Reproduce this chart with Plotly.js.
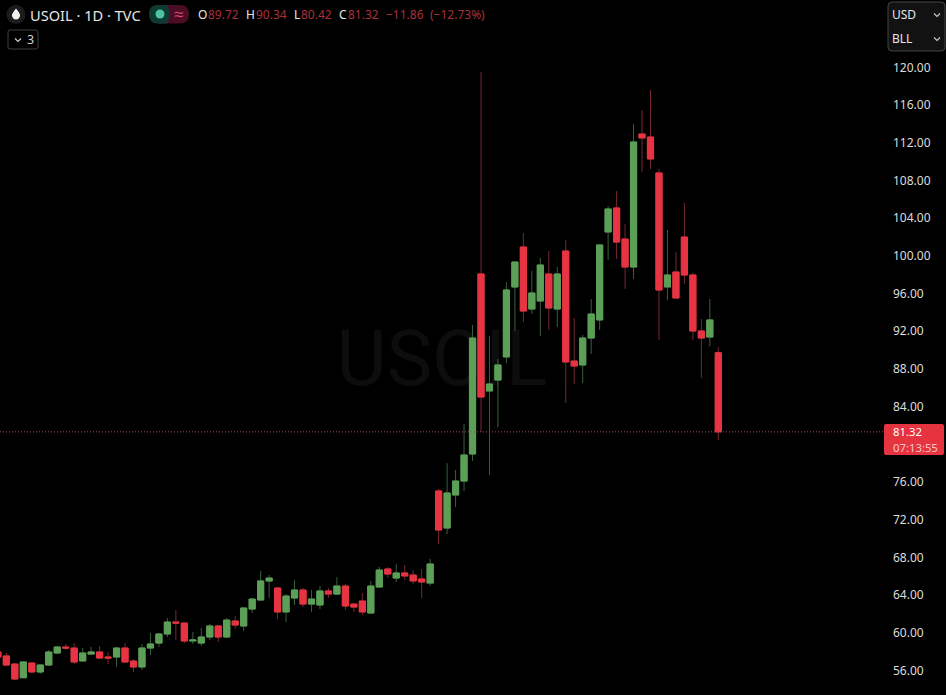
<!DOCTYPE html>
<html><head><meta charset="utf-8">
<script src="https://cdn.plot.ly/plotly-3.0.1.min.js"></script>
<style>html,body{margin:0;padding:0;background:#000;overflow:hidden}#c{width:946px;height:695px}</style>
</head><body><div id="c"></div>
<script>
var openP = [57.95,57.53,56.67,55.22,56.78,55.83,56.57,57.84,58.48,58.37,57.0,57.73,57.95,57.42,57.42,58.37,56.99,56.36,58.37,58.90,59.86,61.13,61.02,59.12,58.90,59.54,60.71,59.54,61.24,60.71,62.51,63.47,65.49,64.74,62.20,63.68,64.53,63.04,62.94,64.43,64.10,64.95,63.04,63.36,62.09,64.85,66.76,65.80,66.34,66.12,65.70,65.27,75.04,71.11,74.62,76.10,78.97,98.08,85.66,86.82,89.27,96.70,100.94,94.36,95.21,98.08,94.36,100.52,88.84,88.42,91.28,93.20,102.54,105.09,101.79,98.82,112.94,112.62,108.80,96.70,98.29,102.00,97.97,92.03,91.39,89.72];
var highP = [58.06,57.84,56.75,56.95,56.89,56.57,58.16,58.54,58.80,58.90,58.37,58.48,58.59,57.95,58.48,58.90,57.20,58.80,59.97,59.97,61.56,62.41,61.13,60.07,60.50,60.92,60.81,61.56,61.77,62.67,63.68,66.55,66.12,64.80,64.10,65.59,64.74,64.53,64.95,64.74,65.91,65.17,63.10,64.21,65.49,66.97,66.97,67.29,67.18,66.65,66.76,67.82,75.25,78.00,77.27,82.15,92.66,119.49,91.50,89.06,97.23,99.40,102.43,98.40,99.78,100.52,98.82,101.69,93.41,91.60,95.42,101.20,105.30,106.89,103.39,114.00,115.49,117.61,109.23,102.75,100.41,105.62,98.18,93.30,95.42,90.34];
var lowP = [57.31,56.46,54.97,55.15,55.72,55.61,56.46,57.73,58.16,56.67,57.00,57.63,57.20,56.67,56.36,56.85,55.83,56.04,57.63,58.48,59.54,59.22,58.90,58.80,58.59,59.22,59.01,59.50,60.39,60.18,62.09,63.40,63.68,61.45,61.13,62.94,62.72,62.20,62.51,63.68,64.05,62.41,62.20,61.88,62.05,64.80,65.80,65.38,65.59,65.17,63.68,64.95,69.40,70.48,73.34,75.04,78.23,81.30,76.74,81.84,88.63,92.03,92.98,93.83,91.50,92.13,92.45,84.38,86.40,86.50,89.59,92.13,99.57,99.67,96.49,97.55,108.91,109.23,91.07,95.32,95.50,97.02,91.07,87.04,90.40,80.42];
var closeP = [57.42,56.57,55.08,56.89,55.83,56.57,57.95,58.48,58.37,56.89,57.84,57.95,57.31,57.31,58.37,56.89,56.36,58.37,58.80,59.86,61.13,61.02,59.12,59.22,59.54,60.71,59.54,61.34,60.81,62.62,63.57,65.49,65.80,62.20,63.89,64.53,63.04,63.57,64.43,64.10,64.95,62.83,62.72,62.20,64.95,66.65,66.23,66.34,66.02,65.49,65.38,67.29,70.90,74.83,76.10,78.86,91.28,85.02,86.40,88.42,96.38,99.35,94.15,96.06,99.03,94.47,98.08,88.74,88.31,91.28,93.83,101.16,104.98,101.47,98.82,112.09,112.52,110.29,96.38,97.97,95.53,97.97,92.03,91.28,93.20,81.32];
var tickValues = [56,60,64,68,72,76,84,88,92,96,100,104,108,112,116,120];
var lastPrice = 81.32;
var barIndex = closeP.map(function(_,i){return i;});
var upBody='#5ca058', downBody='#e83442', upWick='#39603a', downWick='#752831';

var W=884,H=695;
function X(p){return p/W;} function Y(p){return 1-p/H;}
function rect(x0,y0,x1,y1,fill,line,r){
  r=r||0;
  var P=function(x,y){return X(x)+','+Y(y);};
  var d='M'+P(x0+r,y0)+'L'+P(x1-r,y0)+(r?'Q'+P(x1,y0)+' '+P(x1,y0+r):'')+'L'+P(x1,y1-r)+(r?'Q'+P(x1,y1)+' '+P(x1-r,y1):'')+'L'+P(x0+r,y1)+(r?'Q'+P(x0,y1)+' '+P(x0,y1-r):'')+'L'+P(x0,y0+r)+(r?'Q'+P(x0,y0)+' '+P(x0+r,y0):'')+'Z';
  return {type:'path',xref:'paper',yref:'paper',path:d,fillcolor:fill,line:line?{color:line,width:1}:{width:0},layer:'above'};
}
function circle(cx,cy,r,fill){
  return {type:'circle',xref:'paper',yref:'paper',x0:X(cx-r),x1:X(cx+r),y0:Y(cy+r),y1:Y(cy-r),fillcolor:fill,line:{width:0},layer:'above'};
}
function chev(cx,cy,c){
  var P=function(x,y){return X(x)+','+Y(y);};
  return {type:'path',xref:'paper',yref:'paper',path:'M'+P(cx-3,cy-1.5)+'L'+P(cx,cy+1.5)+'L'+P(cx+3,cy-1.5),line:{color:c,width:1.2},layer:'above'};
}
function txt(x,y,t,color,size,extra){
  var a={xref:'paper',yref:'paper',x:X(x),y:Y(y),text:t,showarrow:false,xanchor:'left',yanchor:'middle',borderpad:0,
    font:{family:'Noto Sans, sans-serif',size:size,color:color}};
  if(extra){for(var k in extra){a[k]=extra[k];}}
  return a;
}
var dimRed='#a9303b', hdr='#e6e6e6';
var P0=function(x,y){return X(x)+','+Y(y);};
var drop='M'+P0(16,8.5)+'Q'+P0(21,14.5)+' '+P0(20,16)+'Q'+P0(19,19.5)+' '+P0(16,19.5)+'Q'+P0(13,19.5)+' '+P0(12,16)+'Q'+P0(11,14.5)+' '+P0(16,8.5)+'Z';

var shapes=[
  {type:'line',xref:'paper',yref:'y2',x0:0,x1:1,y0:lastPrice,y1:lastPrice,line:{color:'#a8484f',width:1,dash:'1px,2px'},layer:'above'},
  rect(884,424,944,455,'#e5333f',null,2),
  circle(16,14.5,9.5,'#1c1c1c'),
  {type:'path',xref:'paper',yref:'paper',path:drop,fillcolor:'#f0f0f0',line:{width:0},layer:'above'},
  rect(149,5,189,23.5,'#4a0d22',null,9),
  rect(149,5,170,23.5,'#0d3a33',null,9),
  rect(159,5,168,23.5,'#0d3a33',null,0),
  circle(160,14,4.5,'#4cc4a0'),
  rect(8,30,38,49,'#000','#3f3f3f',2),
  chev(18,40,'#d0d0d0'),
  rect(888,2,945,51,'#121212','#454545',4),
  chev(937,15,'#c8c8c8'),
  chev(937,39,'#c8c8c8')
];
var ann=[
  txt(29,14.5,'USOIL · 1D · TVC',hdr,14.6),
  txt(178,14,'≈','#e0457b',17,{xanchor:'center'}),
  txt(197,14.5,'O',hdr,12), txt(207,14.5,'89.72',dimRed,12),
  txt(245,14.5,'H',hdr,12), txt(255,14.5,'90.34',dimRed,12),
  txt(293,14.5,'L',hdr,12), txt(300,14.5,'80.42',dimRed,12),
  txt(338,14.5,'C',hdr,12), txt(347,14.5,'81.32',dimRed,12),
  txt(385,14.5,'−11.86',dimRed,12),
  txt(429,14.5,'(−12.73%)',dimRed,12),
  txt(26,40,'3','#d0d0d0',12.5),
  txt(891,14.5,'USD','#e6e6e6',12),
  txt(891,38.5,'BLL','#e6e6e6',12),
  txt(892,432,'81.32','#ffffff',11.3),
  txt(892,447.5,'07:13:55','#ffc4c9',11.3)
];

var watermark={type:'scatter',mode:'text',x:[442],y:[366],text:['USOIL'],textposition:'middle center',
  textfont:{family:'Roboto, sans-serif',size:77,color:'#0d0d0d'},hoverinfo:'skip',showlegend:false,xaxis:'x',yaxis:'y',cliponaxis:false};
var wicks={type:'candlestick',x:barIndex,open:openP,high:highP,low:lowP,close:closeP,xaxis:'x2',yaxis:'y2',
  increasing:{line:{color:upWick,width:1},fillcolor:upBody},
  decreasing:{line:{color:downWick,width:1},fillcolor:downBody},
  hoverinfo:'skip',showlegend:false};
var bodies={type:'candlestick',x:barIndex,open:openP,close:closeP,xaxis:'x2',yaxis:'y2',
  high:openP.map(function(o,i){return Math.max(o,closeP[i]);}),
  low:openP.map(function(o,i){return Math.min(o,closeP[i]);}),
  increasing:{line:{color:upBody,width:1},fillcolor:upBody},
  decreasing:{line:{color:downBody,width:1},fillcolor:downBody},
  hoverinfo:'skip',showlegend:false};

var layout={
  width:946,height:695,paper_bgcolor:'#000',plot_bgcolor:'#000',showlegend:false,
  margin:{l:0,r:62,t:0,b:0,pad:0},
  boxmode:'overlay',boxgap:0.27,boxgroupgap:0,
  xaxis:{range:[0,884],visible:false,fixedrange:true},
  yaxis:{range:[695,0],visible:false,fixedrange:true},
  xaxis2:{overlaying:'x',range:[0.248,104.55],visible:false,showgrid:false,zeroline:false,rangeslider:{visible:false},fixedrange:true},
  yaxis2:{overlaying:'y',range:[53.385,127.166],side:'right',anchor:'x2',showgrid:false,zeroline:false,showline:false,ticks:'',
    tickmode:'array',tickvals:tickValues,ticktext:tickValues.map(function(v){return v.toFixed(2);}),
    ticklabelstandoff:8,tickfont:{family:'Noto Sans, sans-serif',size:12,color:'#dcdcdc'},fixedrange:true},
  shapes:shapes,annotations:ann
};
Plotly.newPlot('c',[watermark,wicks,bodies],layout,{displayModeBar:false,staticPlot:true});
</script></body></html>
